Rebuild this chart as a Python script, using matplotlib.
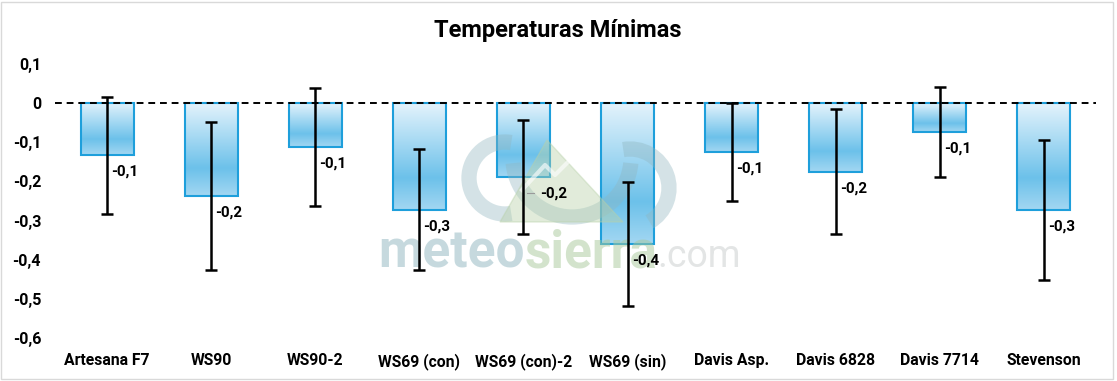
import matplotlib
matplotlib.use("Agg")
import matplotlib.pyplot as plt
import numpy as np
from matplotlib.colors import LinearSegmentedColormap
from matplotlib.patches import Rectangle, Arc, Polygon
from matplotlib.lines import Line2D

categories = ["Artesana F7", "WS90", "WS90-2", "WS69 (con)", "WS69 (con)-2",
              "WS69 (sin)", "Davis Asp.", "Davis 6828", "Davis 7714", "Stevenson"]
values = [-0.133, -0.237, -0.112, -0.272, -0.189, -0.359, -0.125, -0.175, -0.073, -0.272]
errors = [0.149, 0.190, 0.150, 0.155, 0.145, 0.158, 0.125, 0.160, 0.115, 0.179]
yticks = [0.1, 0, -0.1, -0.2, -0.3, -0.4, -0.5, -0.6]
title = "Temperaturas Mínimas"

plt.rcParams['font.family'] = ['Roboto', 'DejaVu Sans']
W, H = 1117, 381
fig = plt.figure(figsize=(W/100, H/100), dpi=100)

# helper axes giving a pixel coordinate transform (top-left origin)
wm_ax = fig.add_axes([0, 0, 1, 1], facecolor='none', zorder=0)
wm_ax.set_xlim(0, W); wm_ax.set_ylim(H, 0); wm_ax.axis('off')

ax = fig.add_axes([55/W, (H-338)/H, (1096-55)/W, (338-64)/H], zorder=1)
ax.patch.set_alpha(0)

x = np.arange(len(categories))
bars = ax.bar(x, values, width=0.51, facecolor='none', edgecolor='#1e9fdb', linewidth=1.5, zorder=3)
cmap = LinearSegmentedColormap.from_list('g', [(0, '#e4f3fc'), (0.7, '#6cc1ea'), (1.0, '#a3d7f2')])
grad = np.linspace(0, 1, 256).reshape(-1, 1)
for b in bars:
    x0 = b.get_x(); w = b.get_width(); h = b.get_height()
    im = ax.imshow(grad, cmap=cmap, aspect='auto', extent=[x0, x0+w, h, 0], zorder=2)
    im.set_clip_path(b)

ax.errorbar(x, values, yerr=errors, fmt='none', ecolor='black', elinewidth=1.8,
            capsize=4.5, capthick=1.8, zorder=5)
ax.axhline(0, color='black', linestyle=(0, (3.5, 2.5)), linewidth=1.4, zorder=4)

for i, v in enumerate(values):
    lab = f"{v:.1f}".replace('.', ',')
    dx = 3 if i != 4 else 12
    ax.annotate(lab, (x[i], v), xytext=(dx, -12), textcoords='offset points',
                ha='left', va='center', fontsize=11, fontweight='bold', zorder=6)
    if i == 4:
        ax.plot([x[i] + 0.03, x[i] + 0.1], [v - 0.04, v - 0.04], color='#9a9a9a', lw=0.8, zorder=6)

ax.set_xlim(-0.5, len(categories) - 0.5)
ax.set_ylim(-0.6, 0.1)
ax.set_yticks(yticks)
ax.set_yticklabels([("%g" % t).replace('.', ',') for t in yticks], fontsize=11.5, fontweight='bold')
ax.set_xticks(x)
ax.set_xticklabels(categories, fontsize=11.3, fontweight='bold')
ax.tick_params(axis='both', length=0)
ax.tick_params(axis='y', pad=10)
ax.tick_params(axis='x', pad=11)
for s in ax.spines.values():
    s.set_visible(False)

fig.text(558/W, 1 - 30/H, title, ha='center', va='center', fontsize=17, fontweight='bold')

# watermark (drawn in ax between bars and error bars, pixel coordinates)
T = wm_ax.transData
ring = '#8fb5bf'
for (cx, cy, d, t1, t2) in [(505, 178, 72, 80, 280), (572, 158, 118, 5, 175), (630, 188, 78, -100, 60)]:
    ax.add_patch(Arc((cx, cy), d, d, theta1=t1, theta2=t2, lw=11, color=ring, alpha=0.38,
                     transform=T, clip_on=False, zorder=4.2))
ax.add_patch(Polygon([[500, 222], [547, 140], [623, 222]], closed=True, color='#b8d1a9', alpha=0.42,
                     transform=T, clip_on=False, zorder=4.2))
ax.add_line(Line2D([522, 545, 555, 570, 590], [190, 165, 175, 160, 180], color='white', lw=3,
                   alpha=0.6, transform=T, clip_on=False, zorder=4.3))
fig.canvas.draw()
r = fig.canvas.get_renderer()
xpos = 378
for txt, col, fs, fw in [("meteo", '#8fb5bf', 37, 'bold'), ("sierra", '#a9c99b', 37, 'bold'),
                         (".com", '#c8cccc', 27, 'normal')]:
    t = ax.text(xpos, 267, txt, fontsize=fs, color=col, alpha=0.5, ha='left', va='baseline',
                fontweight=fw, family=['Roboto', 'DejaVu Sans'], transform=T, clip_on=False, zorder=4.4)
    bb = t.get_window_extent(renderer=r)
    xpos += bb.width

fig.patches.append(Rectangle((1/W, 2/H), (W-5)/W, (H-4)/H, transform=fig.transFigure,
                             fill=False, edgecolor='#d9d9d9', lw=1))
fig.savefig("out.png", dpi=100)
